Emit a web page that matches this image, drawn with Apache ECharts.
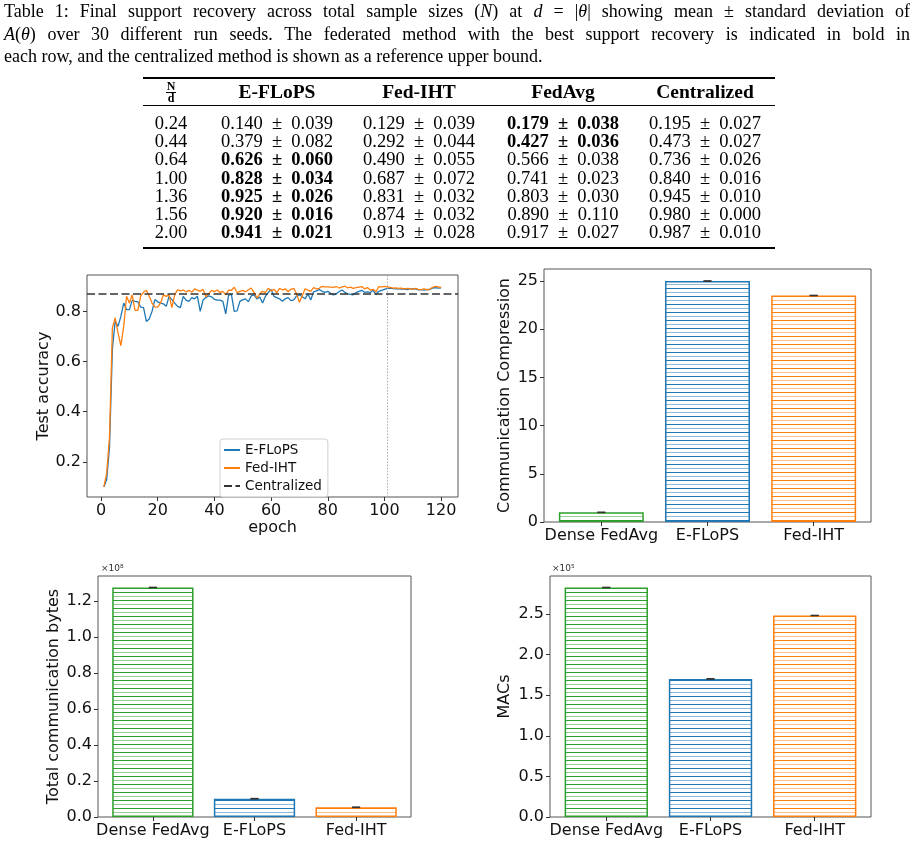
<!DOCTYPE html>
<html>
<head>
<meta charset="utf-8">
<script src="https://cdn.jsdelivr.net/npm/echarts@6/dist/echarts.min.js"></script>
<style>
  html, body { margin: 0; padding: 0; background: #fff; }
  #caption {
    position: absolute; left: 4px; top: 0; width: 906px; z-index: 2;
    font-family: 'Liberation Serif', serif; font-size: 18px; line-height: 22.5px; color: #000;
  }
  #caption .jl { text-align: justify; text-align-last: justify; }
  #tbl {
    position: absolute; left: 143px; top: 77px; width: 632px; z-index: 2;
    font-family: 'Liberation Serif', serif; font-size: 18.5px; color: #000;
  }
  #tbl table { border-collapse: collapse; width: 632px; border-top: 2px solid #000; border-bottom: 2px solid #000; }
  #tbl th { height: 26px; padding: 0; border-bottom: 1px solid #000; text-align: center; font-weight: bold; font-size: 19.5px; }
  #tbl td { height: 18.2px; line-height: 18px; padding: 0; text-align: center; white-space: nowrap; }
  #tbl tbody tr:first-child td { padding-top: 8px; }
  #tbl tbody tr:last-child td { padding-bottom: 6px; }
  #tbl .last { padding-right: 8px; }
  .frac { display: inline-flex; flex-direction: column; align-items: center; font-size: 12px; line-height: 11px; vertical-align: middle; }
  .frac span:first-child { border-bottom: 1px solid #000; padding: 0 1px; }
  #main { position: absolute; left: 0; top: 0; width: 916px; height: 846px; }
</style>
</head>
<body>
<div id="caption">
  <div class="jl">Table 1: Final support recovery across total sample sizes (<i>N</i>) at <i>d</i> = |<i>θ</i>| showing mean ± standard deviation of</div>
  <div class="jl"><i>A</i>(<i>θ</i>) over 30 different run seeds. The federated method with the best support recovery is indicated in bold in</div>
  <div>each row, and the centralized method is shown as a reference upper bound.</div>
</div>
<div id="tbl"></div>
<div id="main"></div>
<script>
// table values (mean, std)
var ratios = ['0.24', '0.44', '0.64', '1.00', '1.36', '1.56', '2.00'];
var tableMethods = ['E-FLoPS', 'Fed-IHT', 'FedAvg', 'Centralized'];
var eflopsMean = [0.140, 0.379, 0.626, 0.828, 0.925, 0.920, 0.941];
var eflopsStd = [0.039, 0.082, 0.060, 0.034, 0.026, 0.016, 0.021];
var fedIhtMean = [0.129, 0.292, 0.490, 0.687, 0.831, 0.874, 0.913];
var fedIhtStd = [0.039, 0.044, 0.055, 0.072, 0.032, 0.032, 0.028];
var fedAvgMean = [0.179, 0.427, 0.566, 0.741, 0.803, 0.890, 0.917];
var fedAvgStd = [0.038, 0.036, 0.038, 0.023, 0.030, 0.110, 0.027];
var centralMean = [0.195, 0.473, 0.736, 0.840, 0.945, 0.980, 0.987];
var centralStd = [0.027, 0.027, 0.026, 0.016, 0.010, 0.000, 0.010];

// test accuracy per epoch (epoch 1..120)
var eflopsAcc = [
  0.100, 0.130, 0.260, 0.650, 0.760, 0.740, 0.780, 0.833, 0.807, 0.807,
  0.844, 0.840, 0.838, 0.817, 0.815, 0.760, 0.770, 0.800, 0.847, 0.838,
  0.833, 0.830, 0.820, 0.860, 0.847, 0.833, 0.820, 0.815, 0.860, 0.845,
  0.840, 0.855, 0.850, 0.860, 0.800, 0.845, 0.855, 0.862, 0.858, 0.848,
  0.845, 0.845, 0.840, 0.790, 0.865, 0.868, 0.800, 0.802, 0.840, 0.846,
  0.850, 0.838, 0.862, 0.866, 0.850, 0.857, 0.833, 0.860, 0.875, 0.887,
  0.860, 0.855, 0.850, 0.840, 0.850, 0.855, 0.843, 0.846, 0.862, 0.866,
  0.858, 0.850, 0.870, 0.845, 0.878, 0.882, 0.887, 0.880, 0.876, 0.880,
  0.872, 0.866, 0.870, 0.878, 0.885, 0.876, 0.870, 0.868, 0.866, 0.875,
  0.880, 0.884, 0.876, 0.878, 0.875, 0.884, 0.868, 0.880, 0.884, 0.888,
  0.892, 0.893, 0.891, 0.890, 0.891, 0.889, 0.890, 0.887, 0.890, 0.891,
  0.889, 0.886, 0.887, 0.885, 0.888, 0.887, 0.893, 0.895, 0.893, 0.894
];
var fedIhtAcc = [
  0.100, 0.156, 0.300, 0.734, 0.774, 0.714, 0.663, 0.740, 0.860, 0.833,
  0.866, 0.804, 0.804, 0.862, 0.876, 0.884, 0.860, 0.833, 0.818, 0.817,
  0.833, 0.866, 0.860, 0.866, 0.815, 0.866, 0.886, 0.882, 0.885, 0.878,
  0.884, 0.876, 0.890, 0.885, 0.880, 0.888, 0.858, 0.870, 0.884, 0.879,
  0.885, 0.875, 0.880, 0.866, 0.885, 0.884, 0.896, 0.875, 0.880, 0.884,
  0.878, 0.886, 0.893, 0.875, 0.853, 0.870, 0.880, 0.876, 0.892, 0.882,
  0.888, 0.875, 0.892, 0.885, 0.890, 0.878, 0.888, 0.892, 0.870, 0.836,
  0.862, 0.890, 0.885, 0.880, 0.895, 0.890, 0.892, 0.900, 0.898, 0.898,
  0.897, 0.896, 0.899, 0.893, 0.898, 0.900, 0.894, 0.897, 0.892, 0.895,
  0.897, 0.899, 0.890, 0.895, 0.885, 0.888, 0.878, 0.899, 0.898, 0.900,
  0.898, 0.896, 0.893, 0.894, 0.892, 0.893, 0.890, 0.892, 0.891, 0.889,
  0.892, 0.888, 0.887, 0.890, 0.886, 0.889, 0.896, 0.900, 0.898, 0.896
];
var centralizedAcc = 0.868;
var markEpoch = 101;

// bar charts
var methods = ['Dense FedAvg', 'E-FLoPS', 'Fed-IHT'];
var methodColors = ['#2ca02c', '#1f77b4', '#ff7f0e'];
var compression = [1.0, 25.0, 23.5];
var compressionErr = [0.01, 0.02, 0.02];
var totalBytes = [1.277e8, 0.102e8, 0.054e8];
var totalBytesErr = [0.001e8, 0.001e8, 0.001e8];
var macs = [2.825e5, 1.700e5, 2.480e5];
var macsErr = [0.002e5, 0.002e5, 0.002e5];

// tick labels
var epochTicks = [0, 20, 40, 60, 80, 100, 120];
var accTicks = [0.2, 0.4, 0.6, 0.8];
var compTicks = [0, 5, 10, 15, 20, 25];
var bytesTicks = [0, 0.2e8, 0.4e8, 0.6e8, 0.8e8, 1.0e8, 1.2e8];
var macsTicks = [0, 0.5e5, 1.0e5, 1.5e5, 2.0e5, 2.5e5];
var barTicks = [0, 1, 2];

// ---- table ----
function cell(m, s, bold) {
  var t = m.toFixed(3) + '\u2002\u00b1\u2002' + s.toFixed(3);
  return bold ? '<b>' + t + '</b>' : t;
}
var html = '<table><colgroup><col style="width:56px"><col style="width:156px"><col style="width:128px"><col style="width:160px"><col style="width:132px"></colgroup>';
html += '<thead><tr><th><span class="frac"><span>N</span><span>d</span></span></th>';
tableMethods.forEach(function (m, i) { html += '<th' + (i === 3 ? ' class="last"' : '') + '>' + m + '</th>'; });
html += '</tr></thead><tbody>';
ratios.forEach(function (r, i) {
  var fed = [eflopsMean[i], fedIhtMean[i], fedAvgMean[i]];
  var best = fed.indexOf(Math.max.apply(null, fed));
  html += '<tr><td>' + r + '</td>' +
    '<td>' + cell(eflopsMean[i], eflopsStd[i], best === 0) + '</td>' +
    '<td>' + cell(fedIhtMean[i], fedIhtStd[i], best === 1) + '</td>' +
    '<td>' + cell(fedAvgMean[i], fedAvgStd[i], best === 2) + '</td>' +
    '<td class="last">' + cell(centralMean[i], centralStd[i], false) + '</td></tr>';
});
html += '</tbody></table>';
document.getElementById('tbl').innerHTML = html;

// ---- charts ----
var FONT = 'DejaVu Sans';
var TXT = '#111';

// horizontal hatch like matplotlib '-'
function hatch(color) {
  var c = document.createElement('canvas');
  c.width = 8; c.height = 8;
  var ctx = c.getContext('2d');
  ctx.fillStyle = color;
  ctx.fillRect(0, 0, 8, 1);
  ctx.globalAlpha = 0.5;
  ctx.fillRect(0, 4, 8, 1);
  return { image: c, repeat: 'repeat' };
}

var grids = [
  { left: 87, top: 275, width: 371, height: 222 },
  { left: 544, top: 269, width: 327, height: 253 },
  { left: 98, top: 576, width: 313, height: 241 },
  { left: 550, top: 576, width: 321, height: 241 }
];
grids.forEach(function (g) { g.show = true; g.borderColor = '#555'; g.borderWidth = 1; g.containLabel = false; });

function tickStyle() {
  return { show: true, length: 4, lineStyle: { color: '#333', width: 1 } };
}
var noLine = { show: false, onZero: false };

function barX(gi) {
  return {
    type: 'value', gridIndex: gi, min: -0.54, max: 2.54,
    axisLine: noLine, splitLine: { show: false },
    axisTick: Object.assign(tickStyle(), { customValues: barTicks }),
    axisLabel: { customValues: barTicks, margin: 6, fontSize: 16, fontFamily: FONT, color: TXT,
      formatter: function (v) { return methods[v]; } }
  };
}

function barY(gi, name, ticks, div, digits, gap) {
  return {
    type: 'value', gridIndex: gi, min: 0,
    max: function (e) { return e.max * 1.05; },
    name: name, nameLocation: 'middle', nameRotate: 90, nameGap: gap,
    nameTextStyle: { fontSize: 16, fontFamily: FONT, color: TXT },
    axisLine: noLine, splitLine: { show: false },
    axisTick: Object.assign(tickStyle(), { customValues: ticks }),
    axisLabel: { customValues: ticks, margin: 6, fontSize: 16, fontFamily: FONT, color: TXT,
      formatter: function (v) { return (v / div).toFixed(digits); } }
  };
}

function barSeries(gi, values) {
  var bw = 0.8 * grids[gi].width / 3.08;
  return {
    type: 'bar', xAxisIndex: gi, yAxisIndex: gi, barWidth: bw,
    data: values.map(function (v, i) {
      return {
        value: [i, v],
        itemStyle: { color: hatch(methodColors[i]), borderColor: methodColors[i], borderWidth: 1.5 }
      };
    })
  };
}

function errSeries(gi, values, errs) {
  return {
    type: 'custom', xAxisIndex: gi, yAxisIndex: gi, z: 5,
    data: values.map(function (v, i) { return [i, v, errs[i]]; }),
    renderItem: function (params, api) {
      var x = api.value(0), v = api.value(1), e = api.value(2);
      var lo = api.coord([x, v - e]), hi = api.coord([x, v + e]);
      var st = { stroke: '#333', lineWidth: 1.3 };
      return {
        type: 'group',
        children: [
          { type: 'line', shape: { x1: lo[0], y1: lo[1], x2: hi[0], y2: hi[1] }, style: st },
          { type: 'line', shape: { x1: lo[0] - 4, y1: lo[1], x2: lo[0] + 4, y2: lo[1] }, style: st },
          { type: 'line', shape: { x1: hi[0] - 4, y1: hi[1], x2: hi[0] + 4, y2: hi[1] }, style: st }
        ]
      };
    }
  };
}

var chart = echarts.init(document.getElementById('main'));
chart.setOption({
  animation: false,
  grid: grids,
  legend: {
    data: ['E-FLoPS', 'Fed-IHT', 'Centralized'],
    orient: 'vertical', left: 220, top: 439,
    padding: [4, 6, 4, 3], itemGap: 4, itemWidth: 16, itemHeight: 13,
    backgroundColor: 'rgba(255,255,255,0.8)', borderColor: '#d0d0d0', borderWidth: 1, borderRadius: 3,
    itemStyle: { opacity: 0 },
    textStyle: { fontSize: 13.5, fontFamily: FONT, color: TXT },
    selectedMode: false
  },
  graphic: [
    { type: 'text', left: 101, top: 564, style: { text: '×10⁸', font: '9px "DejaVu Sans"', fill: '#333' } },
    { type: 'text', left: 552, top: 564, style: { text: '×10⁵', font: '9px "DejaVu Sans"', fill: '#333' } }
  ],
  xAxis: [
    {
      type: 'value', gridIndex: 0, min: -4.95, max: 125.95,
      name: 'epoch', nameLocation: 'middle', nameGap: 21,
      nameTextStyle: { fontSize: 16, fontFamily: FONT, color: TXT },
      axisLine: noLine, splitLine: { show: false },
      axisTick: Object.assign(tickStyle(), { customValues: epochTicks }),
      axisLabel: { customValues: epochTicks, margin: 6, fontSize: 16, fontFamily: FONT, color: TXT }
    },
    barX(1), barX(2), barX(3)
  ],
  yAxis: [
    {
      type: 'value', gridIndex: 0, min: 0.06, max: 0.945,
      name: 'Test accuracy', nameLocation: 'middle', nameRotate: 90, nameGap: 34,
      nameTextStyle: { fontSize: 16, fontFamily: FONT, color: TXT },
      axisLine: noLine, splitLine: { show: false },
      axisTick: Object.assign(tickStyle(), { customValues: accTicks }),
      axisLabel: { customValues: accTicks, margin: 6, fontSize: 16, fontFamily: FONT, color: TXT,
        formatter: function (v) { return v.toFixed(1); } }
    },
    barY(1, 'Communication Compression', compTicks, 1, 0, 31),
    barY(2, 'Total communication bytes', bytesTicks, 1e8, 1, 36),
    barY(3, 'MACs', macsTicks, 1e5, 1, 37)
  ],
  series: [
    {
      name: 'E-FLoPS', type: 'line', xAxisIndex: 0, yAxisIndex: 0,
      symbol: 'none', lineStyle: { color: '#1f77b4', width: 1.3 }, itemStyle: { color: '#1f77b4' },
      data: eflopsAcc.map(function (v, i) { return [i + 1, v]; }),
      markLine: {
        silent: true, symbol: ['none', 'none'], label: { show: false },
        lineStyle: { color: '#aaa', width: 1, type: [1.5, 1.6] },
        data: [{ xAxis: markEpoch }]
      }
    },
    {
      name: 'Fed-IHT', type: 'line', xAxisIndex: 0, yAxisIndex: 0,
      symbol: 'none', lineStyle: { color: '#ff7f0e', width: 1.3 }, itemStyle: { color: '#ff7f0e' },
      data: fedIhtAcc.map(function (v, i) { return [i + 1, v]; })
    },
    {
      name: 'Centralized', type: 'line', xAxisIndex: 0, yAxisIndex: 0,
      symbol: 'none', lineStyle: { color: '#333', width: 1.5, type: [8, 3.5] }, itemStyle: { color: '#333' },
      data: [],
      markLine: {
        silent: true, symbol: ['none', 'none'], label: { show: false },
        lineStyle: { color: '#333', width: 1.5, type: [8, 3.5] },
        data: [{ yAxis: centralizedAcc }]
      }
    },
    barSeries(1, compression), errSeries(1, compression, compressionErr),
    barSeries(2, totalBytes), errSeries(2, totalBytes, totalBytesErr),
    barSeries(3, macs), errSeries(3, macs, macsErr)
  ]
});
</script>
</body>
</html>
